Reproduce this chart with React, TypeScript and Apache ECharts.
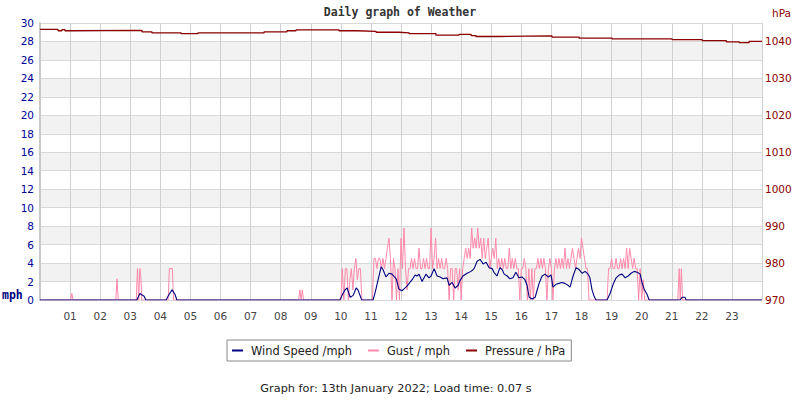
import React, { useEffect, useRef } from "react";
import * as echarts from "echarts";

// ---- data ----
const title = "Daily graph of Weather";
const footer = "Graph for: 13th January 2022; Load time: 0.07 s";
const legendNames = ["Wind Speed /mph", "Gust / mph", "Pressure / hPa"];

// wind speed (mph): [hour, value]
const windSpeed: [number, number][] = [
  [0, 0], [3.22, 0], [3.32, 0.7], [3.46, 0.4], [3.52, 0],
  [4.19, 0], [4.29, 0.6], [4.39, 1.1], [4.49, 0.6], [4.55, 0],
  [9.97, 0], [10.04, 0.5], [10.14, 1.1], [10.21, 1.3], [10.31, 0.3], [10.41, 0.5],
  [10.51, 1.3], [10.57, 1.1], [10.67, 0.2], [10.7, 0],
  [11.07, 0], [11.14, 0.8], [11.24, 2.2], [11.34, 3.6], [11.4, 3.3], [11.5, 2.5],
  [11.6, 2.9], [11.7, 2.8], [11.84, 2.3], [11.93, 1.2], [12.03, 1.0], [12.1, 1.2],
  [12.2, 1.5], [12.27, 1.8], [12.37, 2.2], [12.47, 2.7], [12.53, 2.6], [12.6, 2.8],
  [12.7, 2.0], [12.83, 2.8], [12.93, 2.4], [13.0, 2.6], [13.1, 3.4], [13.2, 2.6],
  [13.3, 2.5], [13.4, 2.3], [13.53, 2.4], [13.6, 1.6], [13.7, 1.9], [13.8, 1.3],
  [13.9, 1.6], [13.96, 2.1], [14.06, 2.6], [14.2, 2.9], [14.33, 3.1], [14.43, 3.4],
  [14.53, 4.2], [14.63, 4.4], [14.73, 3.9], [14.83, 4.1], [14.93, 3.5], [15.03, 3.4],
  [15.09, 3.0], [15.19, 2.6], [15.29, 3.5], [15.36, 3.3], [15.43, 2.8], [15.53, 2.6],
  [15.62, 2.3], [15.72, 2.4], [15.82, 3.0], [15.92, 2.4], [16.02, 2.5], [16.12, 2.2],
  [16.19, 1.6], [16.26, 0.3], [16.36, 0.1], [16.46, 0.3], [16.52, 1.0], [16.59, 1.8],
  [16.69, 2.6], [16.79, 2.8], [16.89, 2.5], [16.99, 2.7], [17.05, 1.4], [17.15, 1.7],
  [17.25, 1.8], [17.35, 1.9], [17.45, 1.8], [17.55, 1.6], [17.62, 1.4], [17.72, 2.6],
  [17.82, 3.5], [17.92, 3.3], [18.02, 2.9], [18.12, 3.1], [18.22, 2.8], [18.28, 2.4],
  [18.35, 1.1], [18.42, 0.4], [18.48, 0],
  [18.85, 0], [18.95, 0.7], [19.05, 1.7], [19.15, 2.4], [19.25, 2.7], [19.35, 2.8],
  [19.45, 2.4], [19.55, 2.6], [19.65, 2.9], [19.75, 3.1], [19.85, 3.0], [19.95, 2.8],
  [20.01, 1.9], [20.08, 1.2], [20.18, 0.6], [20.25, 0],
  [21.28, 0], [21.34, 0.3], [21.44, 0.3], [21.48, 0], [24, 0],
];

// gust (mph), isolated early / late spikes: [hour, value]
const gustEarly: [number, number][] = [
  [0, 0], [1.02, 0], [1.06, 0.7], [1.1, 0], [2.52, 0], [2.56, 2.3], [2.6, 0],
  [3.2, 0], [3.24, 3.4], [3.28, 0], [3.32, 3.4], [3.36, 2.2], [3.38, 0],
  [4.26, 0], [4.3, 3.4], [4.4, 3.4], [4.44, 0],
  [8.6, 0], [8.64, 1.1], [8.68, 0], [8.72, 1.1], [8.76, 0], [9.97, 0],
];
const gustLate: [number, number][] = [
  [20.15, 0], [21.2, 0], [21.25, 3.4], [21.28, 0], [21.32, 3.4], [21.36, 0], [24, 0],
];
// gust (mph), busy period sampled every 3 minutes from 10:00
const gustBusyStartHour = 10;
const gustBusyStepHours = 0.05;
const gustBusy: number[] = [
  // 10h
  0, 3.4, 0, 3.4, 3.4, 0, 2.2, 3.4, 1.1, 3.4, 4.5, 2.2, 3.4, 3.4, 0, 0, 0, 0, 0, 0,
  // 11h
  0, 0, 4.5, 4.5, 3.4, 4.5, 4.5, 3.4, 4.5, 3.4, 4.5, 5.6, 6.7, 4.5, 0, 4.5, 3.4, 0, 3.4, 0,
  // 12h
  6.7, 3.4, 7.8, 3.4, 1.1, 3.4, 3.4, 4.5, 3.4, 4.5, 3.4, 3.4, 5.6, 3.4, 3.4, 4.5, 3.4, 4.5, 3.4, 3.4,
  // 13h
  7.8, 3.4, 4.5, 6.7, 3.4, 4.5, 3.4, 4.5, 3.4, 3.4, 4.5, 3.4, 0, 3.4, 3.4, 0, 3.4, 3.4, 1.1, 3.4,
  // 14h
  0, 3.4, 4.5, 5.6, 4.5, 5.6, 4.5, 7.8, 5.6, 6.7, 5.6, 7.8, 5.6, 6.7, 4.5, 6.7, 4.5, 5.6, 6.7, 3.4,
  // 15h
  4.5, 5.6, 4.5, 6.7, 3.4, 4.5, 3.4, 4.5, 3.4, 4.5, 3.4, 3.4, 5.6, 3.4, 4.5, 3.4, 4.5, 3.4, 3.4, 0,
  // 16h
  3.4, 3.4, 4.5, 3.4, 0, 3.4, 0, 3.4, 0, 3.4, 3.4, 4.5, 3.4, 4.5, 3.4, 4.5, 3.4, 0, 3.4, 4.5,
  // 17h
  3.4, 0, 3.4, 4.5, 3.4, 4.5, 3.4, 4.5, 3.4, 5.6, 3.4, 4.5, 3.4, 4.5, 5.6, 4.5, 3.4, 4.5, 5.6, 4.5,
  // 18h
  6.7, 5.6, 4.5, 3.4, 3.4, 0, 0, 0, 0, 0, 0, 0, 0, 0, 0, 0, 0, 0, 3.4, 3.4,
  // 19h
  4.5, 3.4, 3.4, 4.5, 3.4, 3.4, 4.5, 3.4, 4.5, 3.4, 5.6, 3.4, 5.6, 4.5, 3.4, 4.5, 3.4, 3.4, 0, 3.4,
  // 20h
  0, 2.2, 0,
];

// pressure (hPa): [hour at which level starts, value]
const pressure: [number, number][] = [
  [0, 1043.25], [0.6, 1042.9], [0.73, 1043.2], [0.83, 1042.9], [0.96, 1043.0],
  [3.39, 1042.6], [3.72, 1042.35], [4.69, 1042.1], [5.25, 1042.35], [7.45, 1042.6],
  [8.21, 1042.9], [8.51, 1043.15], [9.94, 1042.9], [10.54, 1042.75], [11.17, 1042.5],
  [11.93, 1042.35], [12.27, 1042.1], [13.16, 1041.7], [13.93, 1041.9], [14.33, 1041.6],
  [14.49, 1041.35], [15.16, 1041.45], [16.16, 1041.5], [17.02, 1041.2], [17.92, 1040.9],
  [19.02, 1040.7], [21.01, 1040.5], [22.01, 1040.25], [22.81, 1039.9], [23.24, 1039.7],
  [23.57, 1040.0], [24, 1040.0],
];

const hourTicks = { min: 0, max: 24, interval: 1 };
const mphTicks = { min: 0, max: 30, interval: 2 };
const hpaTicks = { min: 970, max: 1045, interval: 10 };

export default function App() {
  const ref = useRef<HTMLDivElement>(null);
  useEffect(() => {
    if (!ref.current) return;
    const chart = echarts.init(ref.current, undefined, { renderer: "svg" });
    const gust: [number, number][] = [
      ...gustEarly,
      ...gustBusy.map((v, i) => [gustBusyStartHour + i * gustBusyStepHours, v] as [number, number]),
      ...gustLate,
    ];
    const sans = "DejaVu Sans";
    const mono = "DejaVu Sans Mono";
    chart.setOption({
      animation: false,
      backgroundColor: "#ffffff",
      grid: { left: 40, top: 23, width: 722, height: 277, containLabel: false },
      legend: {
        data: legendNames,
        left: 227,
        top: 340,
        padding: [5, 6, 5, 5],
        borderColor: "#888",
        borderWidth: 1,
        itemGap: 16,
        itemWidth: 11,
        itemHeight: 2,
        icon: "rect",
        textStyle: { fontFamily: sans, fontSize: 11.4, color: "#222", padding: [0, 0, 0, 3] },
      },
      xAxis: {
        type: "value",
        ...hourTicks,
        axisLine: { show: false },
        axisTick: { show: false },
        axisLabel: {
          color: "#444",
          fontFamily: sans,
          fontSize: 10.5,
          margin: 10,
          formatter: (v: number) => (v > 0 && v < 24 ? String(v).padStart(2, "0") : ""),
        },
        splitLine: { show: true, lineStyle: { color: "#d0d0d0", width: 1 } },
      },
      yAxis: [
        {
          type: "value",
          ...mphTicks,
          position: "left",
          axisLine: { show: true, lineStyle: { color: "#c8c8c8", width: 2 } },
          axisTick: { show: false },
          axisLabel: { color: "#000099", fontFamily: sans, fontSize: 10.5, margin: 6 },
          splitLine: { show: true, lineStyle: { color: "#d8d8d8", width: 1 } },
          splitArea: { show: true, areaStyle: { color: ["#ffffff", "#f2f2f2"] } },
        },
        {
          type: "value",
          ...hpaTicks,
          position: "right",
          axisLine: { show: false },
          axisTick: { show: false },
          axisLabel: {
            color: "#8b0000",
            fontFamily: sans,
            fontSize: 10.5,
            margin: 3,
            showMaxLabel: false,
            formatter: (v: number) => String(v),
          },
          splitLine: { show: false },
        },
      ],
      series: [
        {
          name: legendNames[1],
          type: "line",
          data: gust,
          showSymbol: false,
          lineStyle: { color: "#ff88aa", width: 1 },
          itemStyle: { color: "#ff88aa" },
          z: 2,
        },
        {
          name: legendNames[0],
          type: "line",
          data: windSpeed,
          showSymbol: false,
          lineStyle: { color: "#000080", width: 1.1 },
          itemStyle: { color: "#000080" },
          z: 3,
        },
        {
          name: legendNames[2],
          type: "line",
          yAxisIndex: 1,
          data: pressure,
          step: "end",
          showSymbol: false,
          lineStyle: { color: "#8b0000", width: 1.3 },
          itemStyle: { color: "#8b0000" },
          z: 4,
        },
      ],
      graphic: [
        {
          type: "text",
          left: "center",
          top: 6,
          style: { text: title, font: `bold 11.5px "${mono}"`, fill: "#333" },
        },
        {
          type: "text",
          x: 2,
          y: 295,
          style: { text: "mph", font: `bold 11.5px "${mono}"`, fill: "#000080", verticalAlign: "middle" },
        },
        {
          type: "text",
          x: 772,
          y: 13,
          style: { text: "hPa", font: `10.5px "${sans}"`, fill: "#8b0000", verticalAlign: "middle" },
        },
        {
          type: "text",
          x: 396,
          y: 388,
          style: { text: footer, font: `11.3px "${sans}"`, fill: "#222", align: "center", verticalAlign: "middle" },
        },
      ],
    });
    return () => chart.dispose();
  }, []);
  return (
    <div
      ref={ref}
      style={{ position: "fixed", left: 0, top: 0, width: 800, height: 400 }}
    />
  );
}
